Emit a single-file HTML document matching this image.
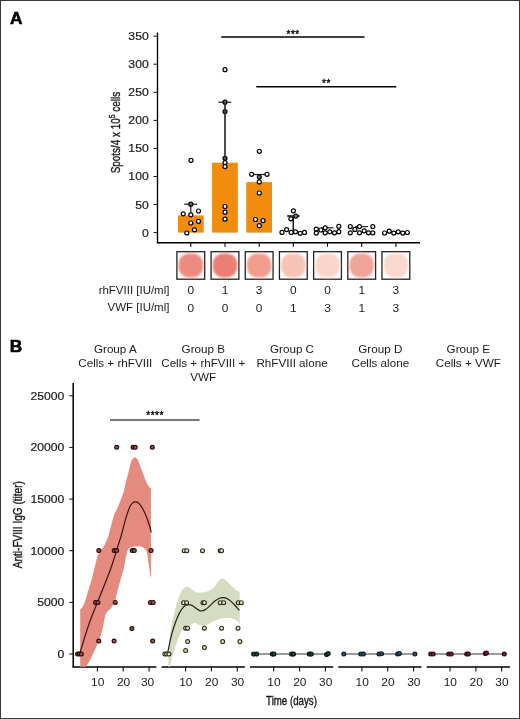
<!DOCTYPE html>
<html><head><meta charset="utf-8"><style>
html,body{margin:0;padding:0;background:#fff;}
svg{display:block;will-change:transform;}
</style></head><body>
<svg width="520" height="719" viewBox="0 0 520 719">
<rect width="520" height="719" fill="#fff"/>
<rect x="0.5" y="0.5" width="519" height="718" fill="none" stroke="#3a3a3a" stroke-width="1"/>
<text transform="translate(9.90,24.30) scale(1.0,1)" font-family="'Liberation Sans', sans-serif" font-size="17.3" font-weight="bold" text-anchor="start" fill="#000" stroke="#000" stroke-width="0.6">A</text>
<text transform="translate(9.80,351.60) scale(1.0,1)" font-family="'Liberation Sans', sans-serif" font-size="17.3" font-weight="bold" text-anchor="start" fill="#000" stroke="#000" stroke-width="0.6">B</text>
<line x1="157.5" y1="32.5" x2="157.5" y2="243.29999999999998" stroke="#000" stroke-width="1.35"/>
<line x1="153.5" y1="232.6" x2="157.5" y2="232.6" stroke="#111" stroke-width="1"/>
<text transform="translate(148.70,236.60) scale(1.06,1)" font-family="'Liberation Sans', sans-serif" font-size="11.5" font-weight="normal" text-anchor="end" fill="#1a1a1a" stroke="#1a1a1a" stroke-width="0.2">0</text>
<line x1="153.5" y1="204.5" x2="157.5" y2="204.5" stroke="#111" stroke-width="1"/>
<text transform="translate(148.70,208.54) scale(1.06,1)" font-family="'Liberation Sans', sans-serif" font-size="11.5" font-weight="normal" text-anchor="end" fill="#1a1a1a" stroke="#1a1a1a" stroke-width="0.2">50</text>
<line x1="153.5" y1="176.5" x2="157.5" y2="176.5" stroke="#111" stroke-width="1"/>
<text transform="translate(148.70,180.48) scale(1.06,1)" font-family="'Liberation Sans', sans-serif" font-size="11.5" font-weight="normal" text-anchor="end" fill="#1a1a1a" stroke="#1a1a1a" stroke-width="0.2">100</text>
<line x1="153.5" y1="148.4" x2="157.5" y2="148.4" stroke="#111" stroke-width="1"/>
<text transform="translate(148.70,152.42) scale(1.06,1)" font-family="'Liberation Sans', sans-serif" font-size="11.5" font-weight="normal" text-anchor="end" fill="#1a1a1a" stroke="#1a1a1a" stroke-width="0.2">150</text>
<line x1="153.5" y1="120.4" x2="157.5" y2="120.4" stroke="#111" stroke-width="1"/>
<text transform="translate(148.70,124.36) scale(1.06,1)" font-family="'Liberation Sans', sans-serif" font-size="11.5" font-weight="normal" text-anchor="end" fill="#1a1a1a" stroke="#1a1a1a" stroke-width="0.2">200</text>
<line x1="153.5" y1="92.3" x2="157.5" y2="92.3" stroke="#111" stroke-width="1"/>
<text transform="translate(148.70,96.30) scale(1.06,1)" font-family="'Liberation Sans', sans-serif" font-size="11.5" font-weight="normal" text-anchor="end" fill="#1a1a1a" stroke="#1a1a1a" stroke-width="0.2">250</text>
<line x1="153.5" y1="64.2" x2="157.5" y2="64.2" stroke="#111" stroke-width="1"/>
<text transform="translate(148.70,68.24) scale(1.06,1)" font-family="'Liberation Sans', sans-serif" font-size="11.5" font-weight="normal" text-anchor="end" fill="#1a1a1a" stroke="#1a1a1a" stroke-width="0.2">300</text>
<line x1="153.5" y1="36.2" x2="157.5" y2="36.2" stroke="#111" stroke-width="1"/>
<text transform="translate(148.70,40.18) scale(1.06,1)" font-family="'Liberation Sans', sans-serif" font-size="11.5" font-weight="normal" text-anchor="end" fill="#1a1a1a" stroke="#1a1a1a" stroke-width="0.2">350</text>
<line x1="156.9" y1="242.7" x2="420" y2="242.7" stroke="#000" stroke-width="1.35"/>
<line x1="190.8" y1="242.7" x2="190.8" y2="246.89999999999998" stroke="#111" stroke-width="1.1"/>
<line x1="225.0" y1="242.7" x2="225.0" y2="246.89999999999998" stroke="#111" stroke-width="1.1"/>
<line x1="259.2" y1="242.7" x2="259.2" y2="246.89999999999998" stroke="#111" stroke-width="1.1"/>
<line x1="293.3" y1="242.7" x2="293.3" y2="246.89999999999998" stroke="#111" stroke-width="1.1"/>
<line x1="327.5" y1="242.7" x2="327.5" y2="246.89999999999998" stroke="#111" stroke-width="1.1"/>
<line x1="361.7" y1="242.7" x2="361.7" y2="246.89999999999998" stroke="#111" stroke-width="1.1"/>
<line x1="395.9" y1="242.7" x2="395.9" y2="246.89999999999998" stroke="#111" stroke-width="1.1"/>
<text transform="translate(120.20,132.60) rotate(-90) scale(0.775,1)" font-family="'Liberation Sans', sans-serif" font-size="12.8" font-weight="normal" text-anchor="middle" fill="#1a1a1a" stroke="#1a1a1a" stroke-width="0.38">Spots/4 x 10<tspan dy="-5.2" font-size="9">5</tspan><tspan dy="5.2"> cells</tspan></text>
<rect x="178.0" y="215.4" width="25.7" height="17.2" fill="#F18C0C"/>
<rect x="212.1" y="162.7" width="25.7" height="69.9" fill="#F18C0C"/>
<rect x="246.3" y="182.1" width="25.7" height="50.5" fill="#F18C0C"/>
<line x1="184.2" y1="204.2" x2="197.0" y2="204.2" stroke="#1a1a1a" stroke-width="1.2"/>
<line x1="190.8" y1="204.2" x2="190.8" y2="214.8" stroke="#1a1a1a" stroke-width="1.2"/>
<line x1="218.4" y1="102.2" x2="231.3" y2="102.2" stroke="#1a1a1a" stroke-width="1.2"/>
<line x1="225.0" y1="102.2" x2="225.0" y2="158.3" stroke="#1a1a1a" stroke-width="1.2"/>
<line x1="251.1" y1="174.5" x2="266.8" y2="174.5" stroke="#1a1a1a" stroke-width="1.2"/>
<line x1="259.2" y1="174.5" x2="259.2" y2="181.8" stroke="#1a1a1a" stroke-width="1.2"/>
<line x1="287.2" y1="216.0" x2="299.5" y2="216.0" stroke="#1a1a1a" stroke-width="1.2"/>
<line x1="293.3" y1="216.0" x2="293.3" y2="231.0" stroke="#1a1a1a" stroke-width="1.2"/>
<line x1="321.0" y1="227.8" x2="333.5" y2="227.8" stroke="#1a1a1a" stroke-width="1.2"/>
<line x1="327.5" y1="227.8" x2="327.5" y2="228.0" stroke="#1a1a1a" stroke-width="1.2"/>
<line x1="355.0" y1="226.6" x2="367.8" y2="226.6" stroke="#1a1a1a" stroke-width="1.2"/>
<line x1="361.7" y1="226.6" x2="361.7" y2="227.0" stroke="#1a1a1a" stroke-width="1.2"/>
<line x1="389.0" y1="231.8" x2="403.0" y2="231.8" stroke="#1a1a1a" stroke-width="1.2"/>
<line x1="395.9" y1="231.8" x2="395.9" y2="232.0" stroke="#1a1a1a" stroke-width="1.2"/>
<circle cx="191" cy="160.3" r="2.0" fill="#fff" stroke="#000" stroke-width="1.2"/>
<circle cx="190.8" cy="204.2" r="2.0" fill="#6a6a6a" stroke="#000" stroke-width="1.2"/>
<circle cx="183.2" cy="213.8" r="2.0" fill="#fff" stroke="#000" stroke-width="1.2"/>
<circle cx="198.5" cy="211" r="2.0" fill="#fff" stroke="#000" stroke-width="1.2"/>
<circle cx="190.8" cy="214.8" r="2.0" fill="#fff" stroke="#000" stroke-width="1.2"/>
<circle cx="190.8" cy="223" r="2.0" fill="#fff" stroke="#000" stroke-width="1.2"/>
<circle cx="198.5" cy="221.3" r="2.0" fill="#fff" stroke="#000" stroke-width="1.2"/>
<circle cx="194.5" cy="229.8" r="2.0" fill="#fff" stroke="#000" stroke-width="1.2"/>
<circle cx="186.8" cy="233" r="2.0" fill="#fff" stroke="#000" stroke-width="1.2"/>
<circle cx="225" cy="69.7" r="2.0" fill="#fff" stroke="#000" stroke-width="1.2"/>
<circle cx="225" cy="102.2" r="2.0" fill="#6a6a6a" stroke="#000" stroke-width="1.2"/>
<circle cx="225" cy="111.6" r="2.0" fill="#6a6a6a" stroke="#000" stroke-width="1.2"/>
<circle cx="225" cy="158.3" r="2.0" fill="#6a6a6a" stroke="#000" stroke-width="1.2"/>
<circle cx="225" cy="162.6" r="2.0" fill="#fff" stroke="#000" stroke-width="1.2"/>
<circle cx="225" cy="166.6" r="2.0" fill="#fff" stroke="#000" stroke-width="1.2"/>
<circle cx="225" cy="206.5" r="2.0" fill="#fff" stroke="#000" stroke-width="1.2"/>
<circle cx="225" cy="212.2" r="2.0" fill="#fff" stroke="#000" stroke-width="1.2"/>
<circle cx="225" cy="219.2" r="2.0" fill="#fff" stroke="#000" stroke-width="1.2"/>
<circle cx="259.3" cy="151.3" r="2.0" fill="#fff" stroke="#000" stroke-width="1.2"/>
<circle cx="251.6" cy="174.3" r="2.0" fill="#fff" stroke="#000" stroke-width="1.2"/>
<circle cx="267" cy="174.3" r="2.0" fill="#fff" stroke="#000" stroke-width="1.2"/>
<circle cx="259.3" cy="177" r="2.0" fill="#6a6a6a" stroke="#000" stroke-width="1.2"/>
<circle cx="259.3" cy="181.9" r="2.0" fill="#fff" stroke="#000" stroke-width="1.2"/>
<circle cx="259.3" cy="193" r="2.0" fill="#fff" stroke="#000" stroke-width="1.2"/>
<circle cx="255.5" cy="219.5" r="2.0" fill="#fff" stroke="#000" stroke-width="1.2"/>
<circle cx="263" cy="220.6" r="2.0" fill="#fff" stroke="#000" stroke-width="1.2"/>
<circle cx="259.3" cy="225.7" r="2.0" fill="#fff" stroke="#000" stroke-width="1.2"/>
<circle cx="293.4" cy="210.8" r="2.0" fill="#fff" stroke="#000" stroke-width="1.2"/>
<circle cx="295.8" cy="216.1" r="2.0" fill="#fff" stroke="#000" stroke-width="1.2"/>
<circle cx="290.9" cy="218.8" r="2.0" fill="#fff" stroke="#000" stroke-width="1.2"/>
<circle cx="282" cy="232.4" r="2.0" fill="#fff" stroke="#000" stroke-width="1.2"/>
<circle cx="286.6" cy="229.6" r="2.0" fill="#fff" stroke="#000" stroke-width="1.2"/>
<circle cx="291.2" cy="232.4" r="2.0" fill="#fff" stroke="#000" stroke-width="1.2"/>
<circle cx="295.5" cy="231.8" r="2.0" fill="#fff" stroke="#000" stroke-width="1.2"/>
<circle cx="300.2" cy="233.3" r="2.0" fill="#fff" stroke="#000" stroke-width="1.2"/>
<circle cx="304.5" cy="232.4" r="2.0" fill="#fff" stroke="#000" stroke-width="1.2"/>
<circle cx="316.3" cy="229.1" r="2.0" fill="#fff" stroke="#000" stroke-width="1.2"/>
<circle cx="316.3" cy="233.1" r="2.0" fill="#fff" stroke="#000" stroke-width="1.2"/>
<circle cx="320.9" cy="230" r="2.0" fill="#fff" stroke="#000" stroke-width="1.2"/>
<circle cx="325.2" cy="227.8" r="2.0" fill="#fff" stroke="#000" stroke-width="1.2"/>
<circle cx="325.2" cy="232.8" r="2.0" fill="#fff" stroke="#000" stroke-width="1.2"/>
<circle cx="329.8" cy="231.8" r="2.0" fill="#fff" stroke="#000" stroke-width="1.2"/>
<circle cx="334.5" cy="232.8" r="2.0" fill="#fff" stroke="#000" stroke-width="1.2"/>
<circle cx="338.8" cy="231.7" r="2.0" fill="#fff" stroke="#000" stroke-width="1.2"/>
<circle cx="338.8" cy="226.3" r="2.0" fill="#fff" stroke="#000" stroke-width="1.2"/>
<circle cx="350.3" cy="226.6" r="2.0" fill="#fff" stroke="#000" stroke-width="1.2"/>
<circle cx="350.3" cy="232.8" r="2.0" fill="#fff" stroke="#000" stroke-width="1.2"/>
<circle cx="354.9" cy="229.4" r="2.0" fill="#fff" stroke="#000" stroke-width="1.2"/>
<circle cx="359.5" cy="226.6" r="2.0" fill="#fff" stroke="#000" stroke-width="1.2"/>
<circle cx="359.5" cy="232.8" r="2.0" fill="#fff" stroke="#000" stroke-width="1.2"/>
<circle cx="364.2" cy="230.8" r="2.0" fill="#fff" stroke="#000" stroke-width="1.2"/>
<circle cx="368.5" cy="232.8" r="2.0" fill="#fff" stroke="#000" stroke-width="1.2"/>
<circle cx="372.8" cy="232.8" r="2.0" fill="#fff" stroke="#000" stroke-width="1.2"/>
<circle cx="372.8" cy="226.6" r="2.0" fill="#fff" stroke="#000" stroke-width="1.2"/>
<circle cx="384.6" cy="233" r="2.0" fill="#fff" stroke="#000" stroke-width="1.2"/>
<circle cx="389.2" cy="231.2" r="2.0" fill="#fff" stroke="#000" stroke-width="1.2"/>
<circle cx="393.8" cy="233.1" r="2.0" fill="#fff" stroke="#000" stroke-width="1.2"/>
<circle cx="398.2" cy="231.8" r="2.0" fill="#fff" stroke="#000" stroke-width="1.2"/>
<circle cx="402.8" cy="233.1" r="2.0" fill="#fff" stroke="#000" stroke-width="1.2"/>
<circle cx="407.4" cy="232.5" r="2.0" fill="#fff" stroke="#000" stroke-width="1.2"/>
<line x1="225" y1="102.2" x2="225" y2="158.3" stroke="#333" stroke-width="1.15"/>
<line x1="293.3" y1="216" x2="293.3" y2="231" stroke="#1a1a1a" stroke-width="1.1"/>
<line x1="287.2" y1="216" x2="299.5" y2="216" stroke="#1a1a1a" stroke-width="1.1"/>
<line x1="221.2" y1="37.0" x2="364.5" y2="37.0" stroke="#000" stroke-width="1.45"/>
<text transform="translate(293.13,38.15) scale(1.0,1)" font-family="'Liberation Sans', sans-serif" font-size="10" font-weight="normal" text-anchor="middle" fill="#000" letter-spacing="0.56" stroke="#000" stroke-width="0.3">***</text>
<line x1="256.3" y1="86.7" x2="396.3" y2="86.7" stroke="#000" stroke-width="1.45"/>
<text transform="translate(326.53,87.35) scale(1.0,1)" font-family="'Liberation Sans', sans-serif" font-size="10" font-weight="normal" text-anchor="middle" fill="#000" letter-spacing="0.56" stroke="#000" stroke-width="0.3">**</text>
<defs><filter id="wb" x="-20%" y="-20%" width="140%" height="140%"><feGaussianBlur stdDeviation="0.9"/></filter></defs>
<rect x="176.90" y="251.7" width="27.8" height="27.5" fill="#fff" stroke="#222" stroke-width="1.3"/>
<rect x="178.60" y="253.6" width="24.4" height="23.8" rx="10" fill="#EC8C80" filter="url(#wb)"/>
<rect x="211.08" y="251.7" width="27.8" height="27.5" fill="#fff" stroke="#222" stroke-width="1.3"/>
<rect x="212.78" y="253.6" width="24.4" height="23.8" rx="10" fill="#EA7F76" filter="url(#wb)"/>
<rect x="245.26" y="251.7" width="27.8" height="27.5" fill="#fff" stroke="#222" stroke-width="1.3"/>
<rect x="246.96" y="253.6" width="24.4" height="23.8" rx="10" fill="#F19C8C" filter="url(#wb)"/>
<rect x="279.44" y="251.7" width="27.8" height="27.5" fill="#fff" stroke="#222" stroke-width="1.3"/>
<rect x="281.14" y="253.6" width="24.4" height="23.8" rx="10" fill="#F6C3B6" filter="url(#wb)"/>
<rect x="313.62" y="251.7" width="27.8" height="27.5" fill="#fff" stroke="#222" stroke-width="1.3"/>
<rect x="315.32" y="253.6" width="24.4" height="23.8" rx="10" fill="#F9D6CB" filter="url(#wb)"/>
<rect x="347.80" y="251.7" width="27.8" height="27.5" fill="#fff" stroke="#222" stroke-width="1.3"/>
<rect x="349.50" y="253.6" width="24.4" height="23.8" rx="10" fill="#F0A498" filter="url(#wb)"/>
<rect x="381.98" y="251.7" width="27.8" height="27.5" fill="#fff" stroke="#222" stroke-width="1.3"/>
<rect x="383.68" y="253.6" width="24.4" height="23.8" rx="10" fill="#F9D9CE" filter="url(#wb)"/>
<text transform="translate(169.40,293.70) scale(1.025,1)" font-family="'Liberation Sans', sans-serif" font-size="11.2" font-weight="normal" text-anchor="end" fill="#1a1a1a">rhFVIII [IU/ml]</text>
<text transform="translate(169.40,310.60) scale(1.025,1)" font-family="'Liberation Sans', sans-serif" font-size="11.2" font-weight="normal" text-anchor="end" fill="#1a1a1a">VWF [IU/ml]</text>
<text transform="translate(190.80,293.70) scale(1.05,1)" font-family="'Liberation Sans', sans-serif" font-size="11.3" font-weight="normal" text-anchor="middle" fill="#1a1a1a">0</text>
<text transform="translate(190.80,311.50) scale(1.05,1)" font-family="'Liberation Sans', sans-serif" font-size="11.3" font-weight="normal" text-anchor="middle" fill="#1a1a1a">0</text>
<text transform="translate(224.98,293.70) scale(1.05,1)" font-family="'Liberation Sans', sans-serif" font-size="11.3" font-weight="normal" text-anchor="middle" fill="#1a1a1a">1</text>
<text transform="translate(224.98,311.50) scale(1.05,1)" font-family="'Liberation Sans', sans-serif" font-size="11.3" font-weight="normal" text-anchor="middle" fill="#1a1a1a">0</text>
<text transform="translate(259.16,293.70) scale(1.05,1)" font-family="'Liberation Sans', sans-serif" font-size="11.3" font-weight="normal" text-anchor="middle" fill="#1a1a1a">3</text>
<text transform="translate(259.16,311.50) scale(1.05,1)" font-family="'Liberation Sans', sans-serif" font-size="11.3" font-weight="normal" text-anchor="middle" fill="#1a1a1a">0</text>
<text transform="translate(293.34,293.70) scale(1.05,1)" font-family="'Liberation Sans', sans-serif" font-size="11.3" font-weight="normal" text-anchor="middle" fill="#1a1a1a">0</text>
<text transform="translate(293.34,311.50) scale(1.05,1)" font-family="'Liberation Sans', sans-serif" font-size="11.3" font-weight="normal" text-anchor="middle" fill="#1a1a1a">1</text>
<text transform="translate(327.52,293.70) scale(1.05,1)" font-family="'Liberation Sans', sans-serif" font-size="11.3" font-weight="normal" text-anchor="middle" fill="#1a1a1a">0</text>
<text transform="translate(327.52,311.50) scale(1.05,1)" font-family="'Liberation Sans', sans-serif" font-size="11.3" font-weight="normal" text-anchor="middle" fill="#1a1a1a">3</text>
<text transform="translate(361.70,293.70) scale(1.05,1)" font-family="'Liberation Sans', sans-serif" font-size="11.3" font-weight="normal" text-anchor="middle" fill="#1a1a1a">1</text>
<text transform="translate(361.70,311.50) scale(1.05,1)" font-family="'Liberation Sans', sans-serif" font-size="11.3" font-weight="normal" text-anchor="middle" fill="#1a1a1a">1</text>
<text transform="translate(395.88,293.70) scale(1.05,1)" font-family="'Liberation Sans', sans-serif" font-size="11.3" font-weight="normal" text-anchor="middle" fill="#1a1a1a">3</text>
<text transform="translate(395.88,311.50) scale(1.05,1)" font-family="'Liberation Sans', sans-serif" font-size="11.3" font-weight="normal" text-anchor="middle" fill="#1a1a1a">3</text>
<text transform="translate(115.30,353.00) scale(1.05,1)" font-family="'Liberation Sans', sans-serif" font-size="11.1" font-weight="normal" text-anchor="middle" fill="#1a1a1a">Group A</text>
<text transform="translate(115.30,367.10) scale(1.05,1)" font-family="'Liberation Sans', sans-serif" font-size="11.1" font-weight="normal" text-anchor="middle" fill="#1a1a1a">Cells + rhFVIII</text>
<text transform="translate(203.30,353.00) scale(1.05,1)" font-family="'Liberation Sans', sans-serif" font-size="11.1" font-weight="normal" text-anchor="middle" fill="#1a1a1a">Group B</text>
<text transform="translate(203.30,367.10) scale(1.05,1)" font-family="'Liberation Sans', sans-serif" font-size="11.1" font-weight="normal" text-anchor="middle" fill="#1a1a1a">Cells + rhFVIII +</text>
<text transform="translate(203.30,381.20) scale(1.05,1)" font-family="'Liberation Sans', sans-serif" font-size="11.1" font-weight="normal" text-anchor="middle" fill="#1a1a1a">VWF</text>
<text transform="translate(292.00,353.00) scale(1.05,1)" font-family="'Liberation Sans', sans-serif" font-size="11.1" font-weight="normal" text-anchor="middle" fill="#1a1a1a">Group C</text>
<text transform="translate(292.00,367.10) scale(1.05,1)" font-family="'Liberation Sans', sans-serif" font-size="11.1" font-weight="normal" text-anchor="middle" fill="#1a1a1a">RhFVIII alone</text>
<text transform="translate(380.30,353.00) scale(1.05,1)" font-family="'Liberation Sans', sans-serif" font-size="11.1" font-weight="normal" text-anchor="middle" fill="#1a1a1a">Group D</text>
<text transform="translate(380.30,367.10) scale(1.05,1)" font-family="'Liberation Sans', sans-serif" font-size="11.1" font-weight="normal" text-anchor="middle" fill="#1a1a1a">Cells alone</text>
<text transform="translate(468.30,353.00) scale(1.05,1)" font-family="'Liberation Sans', sans-serif" font-size="11.1" font-weight="normal" text-anchor="middle" fill="#1a1a1a">Group E</text>
<text transform="translate(468.30,367.10) scale(1.05,1)" font-family="'Liberation Sans', sans-serif" font-size="11.1" font-weight="normal" text-anchor="middle" fill="#1a1a1a">Cells + VWF</text>
<line x1="73.2" y1="383" x2="73.2" y2="667.6" stroke="#000" stroke-width="1.5"/>
<line x1="69.2" y1="654.0" x2="73.2" y2="654.0" stroke="#111" stroke-width="1"/>
<text transform="translate(64.30,658.00) scale(1.06,1)" font-family="'Liberation Sans', sans-serif" font-size="11.5" font-weight="normal" text-anchor="end" fill="#1a1a1a" stroke="#1a1a1a" stroke-width="0.2">0</text>
<line x1="69.2" y1="602.4" x2="73.2" y2="602.4" stroke="#111" stroke-width="1"/>
<text transform="translate(64.30,606.35) scale(1.06,1)" font-family="'Liberation Sans', sans-serif" font-size="11.5" font-weight="normal" text-anchor="end" fill="#1a1a1a" stroke="#1a1a1a" stroke-width="0.2">5000</text>
<line x1="69.2" y1="550.7" x2="73.2" y2="550.7" stroke="#111" stroke-width="1"/>
<text transform="translate(64.30,554.70) scale(1.06,1)" font-family="'Liberation Sans', sans-serif" font-size="11.5" font-weight="normal" text-anchor="end" fill="#1a1a1a" stroke="#1a1a1a" stroke-width="0.2">10000</text>
<line x1="69.2" y1="499.1" x2="73.2" y2="499.1" stroke="#111" stroke-width="1"/>
<text transform="translate(64.30,503.05) scale(1.06,1)" font-family="'Liberation Sans', sans-serif" font-size="11.5" font-weight="normal" text-anchor="end" fill="#1a1a1a" stroke="#1a1a1a" stroke-width="0.2">15000</text>
<line x1="69.2" y1="447.4" x2="73.2" y2="447.4" stroke="#111" stroke-width="1"/>
<text transform="translate(64.30,451.40) scale(1.06,1)" font-family="'Liberation Sans', sans-serif" font-size="11.5" font-weight="normal" text-anchor="end" fill="#1a1a1a" stroke="#1a1a1a" stroke-width="0.2">20000</text>
<line x1="69.2" y1="395.8" x2="73.2" y2="395.8" stroke="#111" stroke-width="1"/>
<text transform="translate(64.30,399.75) scale(1.06,1)" font-family="'Liberation Sans', sans-serif" font-size="11.5" font-weight="normal" text-anchor="end" fill="#1a1a1a" stroke="#1a1a1a" stroke-width="0.2">25000</text>
<text transform="translate(21.50,524.70) rotate(-90) scale(0.805,1)" font-family="'Liberation Sans', sans-serif" font-size="12.5" font-weight="normal" text-anchor="middle" fill="#1a1a1a" stroke="#1a1a1a" stroke-width="0.38">Anti-FVIII IgG (titer)</text>
<line x1="72.6" y1="666.9" x2="156.4" y2="666.9" stroke="#000" stroke-width="1.5"/>
<line x1="97.4" y1="666.9" x2="97.4" y2="671.5" stroke="#111" stroke-width="1.1"/>
<text transform="translate(97.70,686.20) scale(1.07,1)" font-family="'Liberation Sans', sans-serif" font-size="11.2" font-weight="normal" text-anchor="middle" fill="#1a1a1a">10</text>
<line x1="123.2" y1="666.9" x2="123.2" y2="671.5" stroke="#111" stroke-width="1.1"/>
<text transform="translate(123.55,686.20) scale(1.07,1)" font-family="'Liberation Sans', sans-serif" font-size="11.2" font-weight="normal" text-anchor="middle" fill="#1a1a1a">20</text>
<line x1="149.1" y1="666.9" x2="149.1" y2="671.5" stroke="#111" stroke-width="1.1"/>
<text transform="translate(147.60,686.20) scale(1.07,1)" font-family="'Liberation Sans', sans-serif" font-size="11.2" font-weight="normal" text-anchor="middle" fill="#1a1a1a">30</text>
<line x1="161.6" y1="666.9" x2="244.8" y2="666.9" stroke="#000" stroke-width="1.5"/>
<line x1="185.6" y1="666.9" x2="185.6" y2="671.5" stroke="#111" stroke-width="1.1"/>
<text transform="translate(185.85,686.20) scale(1.07,1)" font-family="'Liberation Sans', sans-serif" font-size="11.2" font-weight="normal" text-anchor="middle" fill="#1a1a1a">10</text>
<line x1="211.4" y1="666.9" x2="211.4" y2="671.5" stroke="#111" stroke-width="1.1"/>
<text transform="translate(211.70,686.20) scale(1.07,1)" font-family="'Liberation Sans', sans-serif" font-size="11.2" font-weight="normal" text-anchor="middle" fill="#1a1a1a">20</text>
<line x1="237.3" y1="666.9" x2="237.3" y2="671.5" stroke="#111" stroke-width="1.1"/>
<text transform="translate(237.55,686.20) scale(1.07,1)" font-family="'Liberation Sans', sans-serif" font-size="11.2" font-weight="normal" text-anchor="middle" fill="#1a1a1a">30</text>
<line x1="250.0" y1="666.9" x2="333.2" y2="666.9" stroke="#000" stroke-width="1.5"/>
<line x1="273.7" y1="666.9" x2="273.7" y2="671.5" stroke="#111" stroke-width="1.1"/>
<text transform="translate(274.00,686.20) scale(1.07,1)" font-family="'Liberation Sans', sans-serif" font-size="11.2" font-weight="normal" text-anchor="middle" fill="#1a1a1a">10</text>
<line x1="299.6" y1="666.9" x2="299.6" y2="671.5" stroke="#111" stroke-width="1.1"/>
<text transform="translate(299.85,686.20) scale(1.07,1)" font-family="'Liberation Sans', sans-serif" font-size="11.2" font-weight="normal" text-anchor="middle" fill="#1a1a1a">20</text>
<line x1="325.4" y1="666.9" x2="325.4" y2="671.5" stroke="#111" stroke-width="1.1"/>
<text transform="translate(325.70,686.20) scale(1.07,1)" font-family="'Liberation Sans', sans-serif" font-size="11.2" font-weight="normal" text-anchor="middle" fill="#1a1a1a">30</text>
<line x1="338.3" y1="666.9" x2="421.5" y2="666.9" stroke="#000" stroke-width="1.5"/>
<line x1="361.9" y1="666.9" x2="361.9" y2="671.5" stroke="#111" stroke-width="1.1"/>
<text transform="translate(362.15,686.20) scale(1.07,1)" font-family="'Liberation Sans', sans-serif" font-size="11.2" font-weight="normal" text-anchor="middle" fill="#1a1a1a">10</text>
<line x1="387.7" y1="666.9" x2="387.7" y2="671.5" stroke="#111" stroke-width="1.1"/>
<text transform="translate(388.00,686.20) scale(1.07,1)" font-family="'Liberation Sans', sans-serif" font-size="11.2" font-weight="normal" text-anchor="middle" fill="#1a1a1a">20</text>
<line x1="413.6" y1="666.9" x2="413.6" y2="671.5" stroke="#111" stroke-width="1.1"/>
<text transform="translate(413.85,686.20) scale(1.07,1)" font-family="'Liberation Sans', sans-serif" font-size="11.2" font-weight="normal" text-anchor="middle" fill="#1a1a1a">30</text>
<line x1="426.7" y1="666.9" x2="509.9" y2="666.9" stroke="#000" stroke-width="1.5"/>
<line x1="450.0" y1="666.9" x2="450.0" y2="671.5" stroke="#111" stroke-width="1.1"/>
<text transform="translate(450.30,686.20) scale(1.07,1)" font-family="'Liberation Sans', sans-serif" font-size="11.2" font-weight="normal" text-anchor="middle" fill="#1a1a1a">10</text>
<line x1="475.9" y1="666.9" x2="475.9" y2="671.5" stroke="#111" stroke-width="1.1"/>
<text transform="translate(476.15,686.20) scale(1.07,1)" font-family="'Liberation Sans', sans-serif" font-size="11.2" font-weight="normal" text-anchor="middle" fill="#1a1a1a">20</text>
<line x1="501.7" y1="666.9" x2="501.7" y2="671.5" stroke="#111" stroke-width="1.1"/>
<text transform="translate(502.00,686.20) scale(1.07,1)" font-family="'Liberation Sans', sans-serif" font-size="11.2" font-weight="normal" text-anchor="middle" fill="#1a1a1a">30</text>
<text transform="translate(291.50,704.90) scale(0.81,1)" font-family="'Liberation Sans', sans-serif" font-size="12" font-weight="normal" text-anchor="middle" fill="#1a1a1a" stroke="#1a1a1a" stroke-width="0.38">Time (days)</text>
<line x1="110" y1="420.0" x2="199.6" y2="420.0" stroke="#4a4a4a" stroke-width="1.35"/>
<text transform="translate(155.08,418.75) scale(1.0,1)" font-family="'Liberation Sans', sans-serif" font-size="10" font-weight="normal" text-anchor="middle" fill="#000" letter-spacing="0.56" stroke="#000" stroke-width="0.3">****</text>
<defs><clipPath id="cpA"><rect x="73" y="380" width="84" height="286.8"/></clipPath><clipPath id="cpB"><rect x="161.9" y="380" width="84" height="286.8"/></clipPath></defs>
<path d="M80.20,609.60 C80.63,609.08 81.93,608.07 82.80,606.50 C83.67,604.93 84.60,602.45 85.40,600.20 C86.20,597.95 86.45,596.87 87.60,593.00 C88.75,589.13 90.75,582.75 92.30,577.00 C93.85,571.25 95.67,562.75 96.90,558.50 C98.13,554.25 98.58,553.47 99.70,551.50 C100.82,549.53 102.50,548.45 103.60,546.70 C104.70,544.95 105.47,542.85 106.30,541.00 C107.13,539.15 107.65,538.75 108.60,535.60 C109.55,532.45 110.98,525.82 112.00,522.10 C113.02,518.38 113.90,515.40 114.70,513.30 C115.50,511.20 115.80,511.77 116.80,509.50 C117.80,507.23 119.57,502.62 120.70,499.70 C121.83,496.78 122.75,494.95 123.60,492.00 C124.45,489.05 125.02,485.18 125.80,482.00 C126.58,478.82 127.53,475.92 128.30,472.90 C129.07,469.88 129.73,466.13 130.40,463.90 C131.07,461.67 131.55,460.60 132.30,459.50 C133.05,458.40 134.03,457.30 134.90,457.30 C135.77,457.30 136.75,458.40 137.50,459.50 C138.25,460.60 138.50,461.67 139.40,463.90 C140.30,466.13 141.75,469.90 142.90,472.90 C144.05,475.90 145.15,479.43 146.30,481.90 C147.45,484.37 149.03,486.63 149.80,487.70 C150.57,488.77 150.72,488.20 150.90,488.30 L150.9,577.5 L150.70,577.50 C150.37,575.33 149.32,568.63 148.70,564.50 C148.08,560.37 147.78,555.45 147.00,552.70 C146.22,549.95 145.28,549.08 144.00,548.00 C142.72,546.92 140.87,546.43 139.30,546.20 C137.73,545.97 136.08,546.40 134.60,546.60 C133.12,546.80 131.58,546.77 130.40,547.40 C129.22,548.03 128.28,548.53 127.50,550.40 C126.72,552.27 126.30,555.65 125.70,558.60 C125.10,561.55 124.60,565.13 123.90,568.10 C123.20,571.07 122.28,573.65 121.50,576.40 C120.72,579.15 119.98,581.65 119.20,584.60 C118.42,587.55 117.40,591.70 116.80,594.10 C116.20,596.50 115.97,597.80 115.60,599.00 C115.23,600.20 115.28,599.88 114.60,601.30 C113.92,602.72 112.72,605.77 111.50,607.50 C110.28,609.23 108.35,610.30 107.30,611.70 C106.25,613.10 105.90,613.47 105.20,615.90 C104.50,618.33 103.78,623.17 103.10,626.30 C102.42,629.43 101.97,631.92 101.10,634.70 C100.23,637.48 99.13,640.05 97.90,643.00 C96.67,645.95 95.08,649.43 93.70,652.40 C92.32,655.37 90.82,658.45 89.60,660.80 C88.38,663.15 87.25,664.63 86.40,666.50 C85.55,668.37 84.82,671.08 84.50,672.00 L80.2,675 Z" fill="#E58A7E" clip-path="url(#cpA)"/>
<path d="M168.40,655.00 C168.43,654.40 168.50,653.32 168.60,651.40 C168.70,649.48 168.78,646.13 169.00,643.50 C169.22,640.87 169.53,638.47 169.90,635.60 C170.27,632.73 170.65,629.40 171.20,626.30 C171.75,623.20 172.42,620.30 173.20,617.00 C173.98,613.70 175.12,609.37 175.90,606.50 C176.68,603.63 177.25,601.78 177.90,599.80 C178.55,597.82 179.15,596.13 179.80,594.60 C180.45,593.07 181.13,591.60 181.80,590.60 C182.47,589.60 182.92,589.27 183.80,588.60 C184.68,587.93 185.75,586.47 187.10,586.60 C188.45,586.73 190.40,588.47 191.90,589.40 C193.40,590.33 194.67,591.67 196.10,592.20 C197.53,592.73 199.03,592.65 200.50,592.60 C201.97,592.55 203.37,592.27 204.90,591.90 C206.43,591.53 208.08,591.28 209.70,590.40 C211.32,589.52 213.13,588.22 214.60,586.60 C216.07,584.98 217.20,582.03 218.50,580.70 C219.80,579.37 221.10,578.60 222.40,578.60 C223.70,578.60 224.83,579.53 226.30,580.70 C227.77,581.87 229.58,584.05 231.20,585.60 C232.82,587.15 234.58,588.95 236.00,590.00 C237.42,591.05 239.08,591.58 239.70,591.90 L239.7,624.5 L239.70,624.50 C239.25,623.85 238.10,621.57 237.00,620.60 C235.90,619.63 234.57,619.18 233.10,618.70 C231.63,618.22 229.98,617.78 228.20,617.70 C226.42,617.62 224.18,617.87 222.40,618.20 C220.62,618.53 219.12,619.13 217.50,619.70 C215.88,620.27 214.15,620.88 212.70,621.60 C211.25,622.32 210.17,623.30 208.80,624.00 C207.43,624.70 206.15,625.65 204.50,625.80 C202.85,625.95 200.53,625.40 198.90,624.90 C197.27,624.40 196.12,622.78 194.70,622.80 C193.28,622.82 191.77,624.42 190.40,625.00 C189.03,625.58 187.72,625.63 186.50,626.30 C185.28,626.97 184.10,627.90 183.10,629.00 C182.10,630.10 181.37,631.15 180.50,632.90 C179.63,634.65 178.78,637.07 177.90,639.50 C177.02,641.93 175.98,645.08 175.20,647.50 C174.42,649.92 173.87,651.80 173.20,654.00 C172.53,656.20 171.73,658.53 171.20,660.70 C170.67,662.87 170.28,665.12 170.00,667.00 C169.72,668.88 169.58,671.17 169.50,672.00 L168.4,672 Z" fill="#D6DCC2" clip-path="url(#cpB)"/>
<path d="M79.70,653.50 C81.25,648.58 85.97,632.70 89.00,624.00 C92.03,615.30 95.40,607.63 97.90,601.30 C100.40,594.97 101.94,591.22 104.00,586.00 C106.06,580.78 108.60,574.48 110.25,570.00 C111.90,565.52 112.64,563.02 113.90,559.10 C115.16,555.18 116.50,550.72 117.80,546.50 C119.10,542.28 120.40,538.35 121.70,533.80 C123.00,529.25 124.30,523.58 125.60,519.20 C126.90,514.82 128.37,510.18 129.50,507.50 C130.63,504.82 131.35,504.03 132.40,503.10 C133.45,502.17 134.67,501.82 135.80,501.90 C136.93,501.98 137.98,502.33 139.20,503.60 C140.42,504.87 141.80,507.07 143.10,509.50 C144.40,511.93 145.87,515.28 147.00,518.20 C148.13,521.12 149.20,524.62 149.90,527.00 C150.60,529.38 150.98,531.58 151.20,532.50" fill="none" stroke="#3a1414" stroke-width="1.2" clip-path="url(#cpA)"/>
<path d="M167.60,653.30 C168.18,650.53 169.82,641.78 171.10,636.70 C172.38,631.62 173.92,626.73 175.30,622.80 C176.68,618.87 178.02,615.77 179.40,613.10 C180.78,610.43 182.20,608.20 183.60,606.80 C185.00,605.40 186.42,604.93 187.80,604.70 C189.18,604.47 190.52,604.82 191.90,605.40 C193.28,605.98 194.70,607.28 196.10,608.20 C197.50,609.12 198.83,610.62 200.30,610.90 C201.77,611.18 203.33,610.72 204.90,609.90 C206.47,609.08 208.08,607.45 209.70,606.00 C211.32,604.55 212.97,602.50 214.60,601.20 C216.23,599.90 218.03,598.80 219.50,598.20 C220.97,597.60 222.10,597.52 223.40,597.60 C224.70,597.68 226.00,598.03 227.30,598.70 C228.60,599.37 229.90,600.47 231.20,601.60 C232.50,602.73 233.73,604.03 235.10,605.50 C236.47,606.97 238.68,609.58 239.40,610.40" fill="none" stroke="#1f2418" stroke-width="1.2" clip-path="url(#cpB)"/>
<line x1="254" y1="654.0" x2="327.5" y2="654.0" stroke="#3a3636" stroke-width="1.05"/>
<line x1="343.8" y1="654.0" x2="415" y2="654.0" stroke="#3a3636" stroke-width="1.05"/>
<line x1="430.7" y1="654.0" x2="504.5" y2="654.0" stroke="#3a3636" stroke-width="1.05"/>
<circle cx="77.6" cy="654.0" r="1.95" fill="#9a5656" stroke="#2a0808" stroke-width="1.15"/>
<circle cx="79.5" cy="654.0" r="1.95" fill="#9a5656" stroke="#2a0808" stroke-width="1.15"/>
<circle cx="81.3" cy="654.0" r="1.95" fill="#9a5656" stroke="#2a0808" stroke-width="1.15"/>
<circle cx="98.8" cy="550.5" r="1.95" fill="#9a5656" stroke="#2a0808" stroke-width="1.15"/>
<circle cx="95.5" cy="602.4" r="1.95" fill="#9a5656" stroke="#2a0808" stroke-width="1.15"/>
<circle cx="97.9" cy="602.4" r="1.95" fill="#9a5656" stroke="#2a0808" stroke-width="1.15"/>
<circle cx="98.8" cy="641.0" r="1.95" fill="#9a5656" stroke="#2a0808" stroke-width="1.15"/>
<circle cx="116.7" cy="447.3" r="1.95" fill="#9a5656" stroke="#2a0808" stroke-width="1.15"/>
<circle cx="114.2" cy="550.5" r="1.95" fill="#9a5656" stroke="#2a0808" stroke-width="1.15"/>
<circle cx="116.6" cy="550.5" r="1.95" fill="#9a5656" stroke="#2a0808" stroke-width="1.15"/>
<circle cx="115.2" cy="602.4" r="1.95" fill="#9a5656" stroke="#2a0808" stroke-width="1.15"/>
<circle cx="114.1" cy="641.0" r="1.95" fill="#9a5656" stroke="#2a0808" stroke-width="1.15"/>
<circle cx="133.1" cy="447.3" r="1.95" fill="#9a5656" stroke="#2a0808" stroke-width="1.15"/>
<circle cx="135.2" cy="447.3" r="1.95" fill="#9a5656" stroke="#2a0808" stroke-width="1.15"/>
<circle cx="132.2" cy="550.5" r="1.95" fill="#9a5656" stroke="#2a0808" stroke-width="1.15"/>
<circle cx="134.3" cy="550.5" r="1.95" fill="#9a5656" stroke="#2a0808" stroke-width="1.15"/>
<circle cx="131.9" cy="628.6" r="1.95" fill="#9a5656" stroke="#2a0808" stroke-width="1.15"/>
<circle cx="152.3" cy="447.3" r="1.95" fill="#9a5656" stroke="#2a0808" stroke-width="1.15"/>
<circle cx="151.1" cy="550.5" r="1.95" fill="#9a5656" stroke="#2a0808" stroke-width="1.15"/>
<circle cx="150.4" cy="602.4" r="1.95" fill="#9a5656" stroke="#2a0808" stroke-width="1.15"/>
<circle cx="153.2" cy="602.4" r="1.95" fill="#9a5656" stroke="#2a0808" stroke-width="1.15"/>
<circle cx="152.7" cy="641.0" r="1.95" fill="#9a5656" stroke="#2a0808" stroke-width="1.15"/>
<circle cx="164.9" cy="654.0" r="1.95" fill="#E6E9C8" stroke="#2a2e1a" stroke-width="1.15"/>
<circle cx="166.7" cy="654.0" r="1.95" fill="#E6E9C8" stroke="#2a2e1a" stroke-width="1.15"/>
<circle cx="168.9" cy="654.0" r="1.95" fill="#E6E9C8" stroke="#2a2e1a" stroke-width="1.15"/>
<circle cx="184.2" cy="550.7" r="1.95" fill="#E6E9C8" stroke="#2a2e1a" stroke-width="1.15"/>
<circle cx="186.8" cy="550.7" r="1.95" fill="#E6E9C8" stroke="#2a2e1a" stroke-width="1.15"/>
<circle cx="183.6" cy="602.7" r="1.95" fill="#E6E9C8" stroke="#2a2e1a" stroke-width="1.15"/>
<circle cx="186.6" cy="602.7" r="1.95" fill="#E6E9C8" stroke="#2a2e1a" stroke-width="1.15"/>
<circle cx="185.6" cy="628.2" r="1.95" fill="#E6E9C8" stroke="#2a2e1a" stroke-width="1.15"/>
<circle cx="187.6" cy="628.2" r="1.95" fill="#E6E9C8" stroke="#2a2e1a" stroke-width="1.15"/>
<circle cx="187.6" cy="641.6" r="1.95" fill="#E6E9C8" stroke="#2a2e1a" stroke-width="1.15"/>
<circle cx="185.6" cy="650.5" r="1.95" fill="#E6E9C8" stroke="#2a2e1a" stroke-width="1.15"/>
<circle cx="202.5" cy="550.7" r="1.95" fill="#E6E9C8" stroke="#2a2e1a" stroke-width="1.15"/>
<circle cx="203.0" cy="602.7" r="1.95" fill="#E6E9C8" stroke="#2a2e1a" stroke-width="1.15"/>
<circle cx="204.4" cy="602.7" r="1.95" fill="#E6E9C8" stroke="#2a2e1a" stroke-width="1.15"/>
<circle cx="204.4" cy="628.2" r="1.95" fill="#E6E9C8" stroke="#2a2e1a" stroke-width="1.15"/>
<circle cx="204.4" cy="647.5" r="1.95" fill="#E6E9C8" stroke="#2a2e1a" stroke-width="1.15"/>
<circle cx="220.2" cy="550.7" r="1.95" fill="#E6E9C8" stroke="#2a2e1a" stroke-width="1.15"/>
<circle cx="221.6" cy="550.7" r="1.95" fill="#E6E9C8" stroke="#2a2e1a" stroke-width="1.15"/>
<circle cx="220.2" cy="602.7" r="1.95" fill="#E6E9C8" stroke="#2a2e1a" stroke-width="1.15"/>
<circle cx="223.7" cy="602.7" r="1.95" fill="#E6E9C8" stroke="#2a2e1a" stroke-width="1.15"/>
<circle cx="221.6" cy="628.2" r="1.95" fill="#E6E9C8" stroke="#2a2e1a" stroke-width="1.15"/>
<circle cx="222.7" cy="641.6" r="1.95" fill="#E6E9C8" stroke="#2a2e1a" stroke-width="1.15"/>
<circle cx="238.3" cy="602.7" r="1.95" fill="#E6E9C8" stroke="#2a2e1a" stroke-width="1.15"/>
<circle cx="241.3" cy="602.7" r="1.95" fill="#E6E9C8" stroke="#2a2e1a" stroke-width="1.15"/>
<circle cx="238.0" cy="628.2" r="1.95" fill="#E6E9C8" stroke="#2a2e1a" stroke-width="1.15"/>
<circle cx="239.9" cy="641.6" r="1.95" fill="#E6E9C8" stroke="#2a2e1a" stroke-width="1.15"/>
<circle cx="253.6" cy="654.1" r="1.95" fill="#1e4236" stroke="#0a1a12" stroke-width="1.15"/>
<circle cx="256.6" cy="654.1" r="1.95" fill="#1e4236" stroke="#0a1a12" stroke-width="1.15"/>
<circle cx="272.3" cy="654.1" r="1.95" fill="#1e4236" stroke="#0a1a12" stroke-width="1.15"/>
<circle cx="274.0" cy="654.1" r="1.95" fill="#1e4236" stroke="#0a1a12" stroke-width="1.15"/>
<circle cx="291.6" cy="654.1" r="1.95" fill="#1e4236" stroke="#0a1a12" stroke-width="1.15"/>
<circle cx="293.5" cy="654.1" r="1.95" fill="#1e4236" stroke="#0a1a12" stroke-width="1.15"/>
<circle cx="309.3" cy="654.1" r="1.95" fill="#1e4236" stroke="#0a1a12" stroke-width="1.15"/>
<circle cx="311.3" cy="654.1" r="1.95" fill="#1e4236" stroke="#0a1a12" stroke-width="1.15"/>
<circle cx="326.6" cy="654.6" r="1.95" fill="#1e4236" stroke="#0a1a12" stroke-width="1.15"/>
<circle cx="328.2" cy="653.6" r="1.95" fill="#1e4236" stroke="#0a1a12" stroke-width="1.15"/>
<circle cx="343.8" cy="654.0" r="1.95" fill="#245560" stroke="#0a1e24" stroke-width="1.15"/>
<circle cx="360.8" cy="654.0" r="1.95" fill="#245560" stroke="#0a1e24" stroke-width="1.15"/>
<circle cx="363.4" cy="654.0" r="1.95" fill="#245560" stroke="#0a1e24" stroke-width="1.15"/>
<circle cx="379.0" cy="654.0" r="1.95" fill="#245560" stroke="#0a1e24" stroke-width="1.15"/>
<circle cx="381.5" cy="653.8" r="1.95" fill="#245560" stroke="#0a1e24" stroke-width="1.15"/>
<circle cx="397.6" cy="654.0" r="1.95" fill="#245560" stroke="#0a1e24" stroke-width="1.15"/>
<circle cx="399.4" cy="653.6" r="1.95" fill="#245560" stroke="#0a1e24" stroke-width="1.15"/>
<circle cx="414.9" cy="654.0" r="1.95" fill="#245560" stroke="#0a1e24" stroke-width="1.15"/>
<circle cx="430.7" cy="654.0" r="1.95" fill="#7e1a4a" stroke="#300818" stroke-width="1.15"/>
<circle cx="433.2" cy="654.0" r="1.95" fill="#7e1a4a" stroke="#300818" stroke-width="1.15"/>
<circle cx="448.7" cy="654.0" r="1.95" fill="#7e1a4a" stroke="#300818" stroke-width="1.15"/>
<circle cx="451.2" cy="654.0" r="1.95" fill="#7e1a4a" stroke="#300818" stroke-width="1.15"/>
<circle cx="466.7" cy="654.0" r="1.95" fill="#7e1a4a" stroke="#300818" stroke-width="1.15"/>
<circle cx="468.3" cy="654.0" r="1.95" fill="#7e1a4a" stroke="#300818" stroke-width="1.15"/>
<circle cx="485.3" cy="653.6" r="1.95" fill="#7e1a4a" stroke="#300818" stroke-width="1.15"/>
<circle cx="486.5" cy="653.0" r="1.95" fill="#7e1a4a" stroke="#300818" stroke-width="1.15"/>
<circle cx="504.3" cy="654.0" r="1.95" fill="#7e1a4a" stroke="#300818" stroke-width="1.15"/>
</svg>
</body></html>
